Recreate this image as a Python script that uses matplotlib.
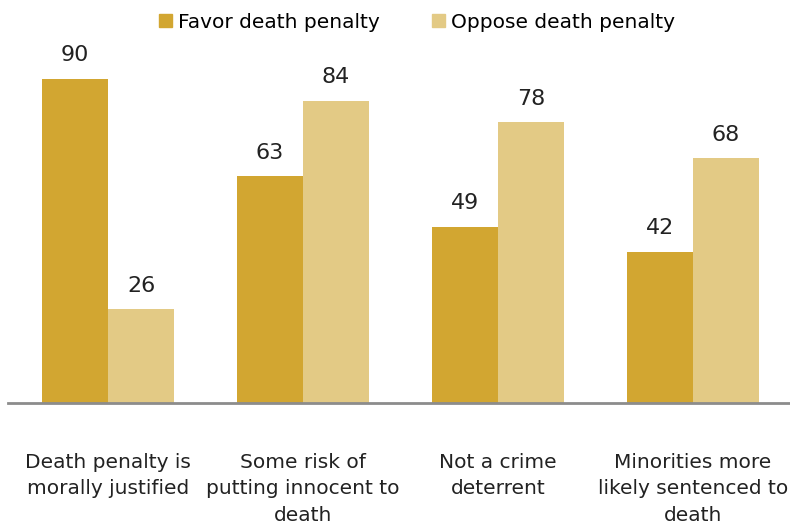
import numpy as np
import matplotlib.pyplot as plt
from matplotlib.patches import Patch

plt.rcParams['font.family'] = ['DejaVu Sans']

categories = ["Death penalty is\nmorally justified",
              "Some risk of\nputting innocent to\ndeath",
              "Not a crime\ndeterrent",
              "Minorities more\nlikely sentenced to\ndeath"]
favor = [90, 63, 49, 42]
oppose = [26, 84, 78, 68]
series_names = ["Favor death penalty", "Oppose death penalty"]

c_favor = "#D2A631"
c_oppose = "#E3CA85"

fig = plt.figure(figsize=(7.9, 5.25), dpi=100)
ax = fig.add_axes([8 / 790, 122 / 525, 782 / 790, 360 / 525])

x = np.arange(len(categories))
w = 66 / 195
b1 = ax.bar(x - w / 2, favor, w, color=c_favor)
b2 = ax.bar(x + w / 2, oppose, w, color=c_oppose)

for bars, vals in [(b1, favor), (b2, oppose)]:
    for r, v in zip(bars, vals):
        ax.text(r.get_x() + r.get_width() / 2, v + 3.8, str(v),
                ha='center', va='bottom', fontsize=16, color='#222222')

ax.set_xlim(-0.513, 3.497)
ax.set_ylim(0, 100)
for s in ['top', 'right', 'left']:
    ax.spines[s].set_visible(False)
ax.spines['bottom'].set_color('#8C8C8C')
ax.spines['bottom'].set_linewidth(2)
ax.set_yticks([])
ax.set_xticks(x)
ax.set_xticklabels(categories, fontsize=14.5, color='#222222', linespacing=1.5)
ax.tick_params(axis='x', length=0, pad=36)

handles = [Patch(color=c_favor), Patch(color=c_oppose)]
fig.legend(handles, series_names, loc='center', bbox_to_anchor=(417 / 790, 1 - 22 / 525),
           ncol=2, frameon=False, fontsize=14.5, handlelength=0.65, handleheight=0.65,
           handletextpad=0.3, columnspacing=2.6)

fig.savefig("out.png", dpi=100)
